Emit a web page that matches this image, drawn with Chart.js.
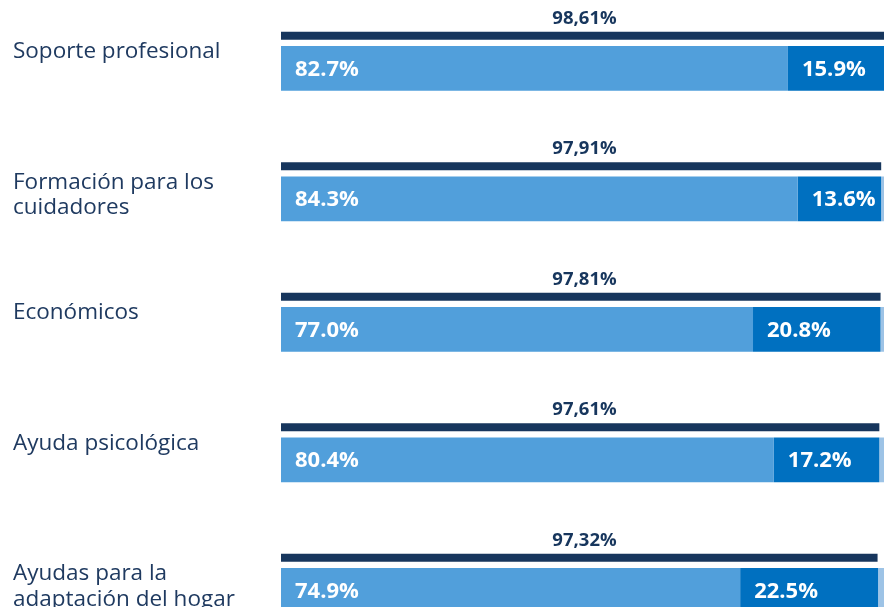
<!DOCTYPE html>
<html>
<head>
<meta charset="utf-8">
<script src="https://cdn.jsdelivr.net/npm/chart.js@4/dist/chart.umd.min.js"></script>
<style>
  html, body { margin: 0; padding: 0; background: #fff; overflow: hidden; width: 884px; height: 607px; }
  #wrap { position: absolute; left: 0; top: -40px; width: 900px; height: 700px; }
</style>
</head>
<body>
<div id="wrap"><canvas id="c" width="900" height="700"></canvas></div>
<script>
const categories = [
  "Soporte profesional",
  ["", "Formación para los", "cuidadores"],
  "Económicos",
  "Ayuda psicológica",
  ["", "Ayudas para la", "adaptación del hogar"]
];
const totals   = [98.61, 97.91, 97.81, 97.61, 97.32];
const primary  = [82.7, 84.3, 77.0, 80.4, 74.9];
const secondary= [15.9, 13.6, 20.8, 17.2, 22.5];
const remainder= [1.4, 2.1, 2.2, 2.4, 2.6];

const NAVY = '#17365d', LIGHT = '#519fdb', DARK = '#0070c0', PALE = '#9dc3e6';

const labelPlugin = {
  id: 'labels',
  afterDatasetsDraw(chart) {
    const ctx = chart.ctx;
    const area = chart.chartArea;
    ctx.save();
    const m0 = chart.getDatasetMeta(0);
    ctx.font = 'bold 18.5px "Open Sans"';
    ctx.fillStyle = NAVY;
    ctx.textAlign = 'center';
    ctx.textBaseline = 'middle';
    m0.data.forEach((el, i) => {
      const txt = totals[i].toFixed(2).replace('.', ',') + '%';
      ctx.fillText(txt, (area.left + area.right) / 2 - 3, el.y - 17);
    });
    ctx.font = 'bold 22px "Open Sans"';
    ctx.fillStyle = '#ffffff';
    ctx.textAlign = 'left';
    [1, 2].forEach(di => {
      const meta = chart.getDatasetMeta(di);
      const vals = chart.data.datasets[di].data;
      meta.data.forEach((el, i) => {
        const left = Math.min(el.base, el.x);
        ctx.fillText(vals[i].toFixed(1) + '%', left + 14, el.y + 1);
      });
    });
    ctx.restore();
  }
};

new Chart(document.getElementById('c'), {
  type: 'bar',
  data: {
    labels: categories,
    datasets: [
      { label: 'Total', data: totals, backgroundColor: NAVY, stack: 'a', barPercentage: 0.245, categoryPercentage: 0.5 },
      { label: 'A', data: primary, backgroundColor: LIGHT, stack: 'b', barPercentage: 1.37, categoryPercentage: 0.5 },
      { label: 'B', data: secondary, backgroundColor: DARK, stack: 'b', barPercentage: 1.37, categoryPercentage: 0.5 },
      { label: 'C', data: remainder, backgroundColor: PALE, stack: 'b', barPercentage: 1.37, categoryPercentage: 0.5 }
    ]
  },
  options: {
    indexAxis: 'y',
    responsive: false,
    animation: false,
    layout: { padding: { left: 13, right: 6, top: 26.75, bottom: 20.75 } },
    plugins: { legend: { display: false }, tooltip: { enabled: false } },
    scales: {
      x: { display: false, min: 0, max: 100, stacked: true },
      y: {
        stacked: true,
        grid: { display: false },
        border: { display: false },
        ticks: {
          crossAlign: 'far',
          color: '#1f3a60',
          padding: 0,
          font: { family: '"Open Sans"', size: 22.5, lineHeight: 1.13 }
        },
        afterFit(scale) {
          scale.width = 268;
          scale.paddingTop = 0;
          scale.paddingBottom = 0;
        }
      }
    }
  },
  plugins: [labelPlugin]
});
</script>
</body>
</html>
